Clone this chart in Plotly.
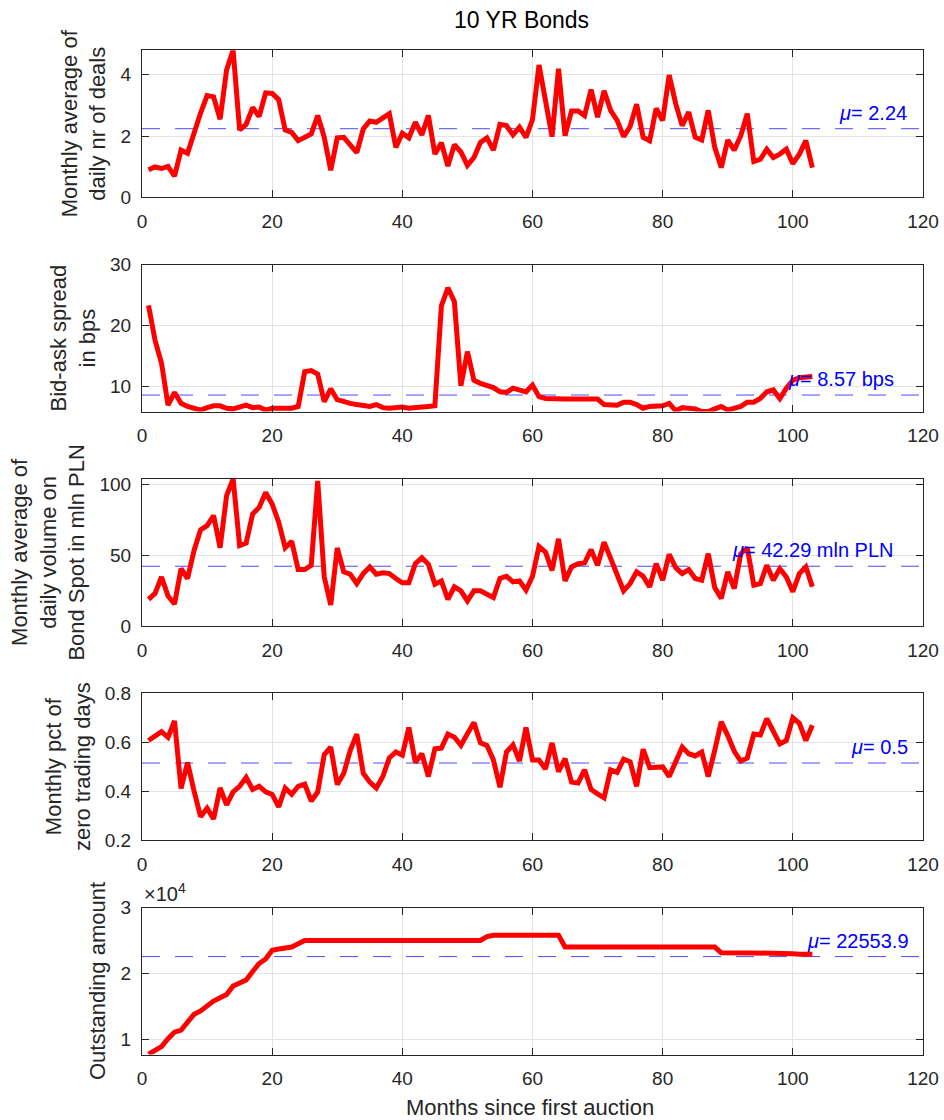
import plotly.graph_objects as go

# ---- data: monthly statistics for the 10-year bond, months since first auction ----
months = list(range(1, 104))

avg_deals = [0.90, 0.99, 0.94, 1.01, 0.69, 1.54, 1.44, 2.12, 2.75, 3.32,
             3.28, 2.55, 4.16, 4.80, 2.20, 2.38, 2.93, 2.64, 3.41, 3.39,
             3.19, 2.20, 2.12, 1.85, 1.96, 2.07, 2.67, 1.96, 0.88, 1.94,
             1.96, 1.68, 1.46, 2.23, 2.49, 2.45, 2.60, 2.73, 1.63, 2.09,
             1.94, 2.45, 2.04, 2.67, 1.41, 1.78, 1.02, 1.72, 1.48, 1.04,
             1.30, 1.79, 1.94, 1.54, 2.38, 2.34, 2.04, 2.29, 1.96, 2.54,
             4.32, 3.22, 1.98, 4.20, 2.01, 2.82, 2.82, 2.67, 3.52, 2.62,
             3.48, 2.84, 2.51, 1.98, 2.31, 3.04, 1.96, 1.85, 2.90, 2.51,
             3.99, 3.06, 2.34, 2.78, 1.96, 1.87, 2.84, 1.63, 0.97, 1.87,
             1.54, 2.01, 2.73, 1.17, 1.24, 1.57, 1.30, 1.41, 1.57, 1.10,
             1.41, 1.85, 0.97]

bid_ask_bps = [23.3, 17.6, 13.8, 6.9, 9.0, 7.2, 6.7, 6.3, 6.1, 6.5,
               6.8, 6.8, 6.4, 6.3, 6.7, 6.9, 6.5, 6.6, 6.1, 6.4,
               6.4, 6.4, 6.4, 6.7, 12.4, 12.6, 12.0, 7.5, 9.6, 7.8,
               7.4, 7.2, 7.0, 6.8, 6.7, 7.0, 6.5, 6.4, 6.5, 6.6,
               6.4, 6.4, 6.6, 6.7, 6.8, 23.2, 26.2, 23.9, 10.1, 15.7,
               11.0, 10.5, 10.2, 9.8, 9.1, 9.0, 9.7, 9.5, 9.1, 10.2,
               8.3, 8.0, 7.9, 8.0, 7.9, 7.9, 7.9, 8.1, 8.0, 7.9,
               7.0, 6.9, 6.9, 7.4, 7.4, 7.0, 6.4, 6.7, 6.7, 6.8,
               7.2, 6.0, 6.5, 6.3, 6.3, 5.85, 5.85, 6.3, 6.7, 6.1,
               6.3, 6.7, 7.4, 7.4, 8.0, 9.1, 9.4, 8.0, 9.7, 11.0,
               11.4, 11.6, 11.6]

volume_mln_pln = [18.8, 23.0, 34.7, 21.1, 15.5, 40.6, 33.6, 53.5, 68.1, 71.1,
                  78.2, 55.4, 92.3, 104.2, 57.0, 58.7, 79.3, 84.0, 94.6, 86.4,
                  73.5, 55.4, 59.9, 39.9, 39.9, 43.0, 102.8, 34.7, 14.8, 55.2,
                  38.3, 36.6, 30.0, 37.1, 41.8, 36.6, 37.6, 37.1, 33.6, 30.5,
                  30.5, 44.1, 48.4, 43.7, 29.6, 31.9, 18.8, 27.7, 24.9, 17.8,
                  24.9, 24.9, 22.5, 20.2, 33.6, 35.2, 31.2, 31.9, 25.4, 35.2,
                  56.3, 52.3, 39.4, 61.7, 31.9, 41.8, 44.1, 44.6, 54.0, 43.0,
                  59.4, 48.4, 36.6, 24.9, 30.0, 38.3, 35.2, 27.7, 44.1, 32.4,
                  50.7, 41.3, 37.1, 39.9, 33.6, 32.4, 51.2, 27.2, 19.5, 38.3,
                  26.5, 51.2, 55.4, 28.9, 30.0, 43.0, 32.4, 40.6, 34.7, 24.2,
                  37.1, 41.8, 27.7]

zero_trading_pct = [0.607, 0.624, 0.643, 0.620, 0.687, 0.411, 0.517, 0.400, 0.296, 0.331,
                    0.287, 0.413, 0.344, 0.397, 0.420, 0.456, 0.407, 0.420, 0.397, 0.387,
                    0.336, 0.413, 0.387, 0.420, 0.429, 0.360, 0.397, 0.549, 0.580, 0.427,
                    0.473, 0.567, 0.633, 0.473, 0.437, 0.413, 0.460, 0.536, 0.560, 0.547,
                    0.660, 0.517, 0.553, 0.460, 0.573, 0.576, 0.633, 0.620, 0.587, 0.635,
                    0.680, 0.597, 0.587, 0.527, 0.416, 0.560, 0.589, 0.523, 0.660, 0.527,
                    0.527, 0.491, 0.597, 0.480, 0.533, 0.437, 0.433, 0.487, 0.407, 0.389,
                    0.373, 0.487, 0.477, 0.531, 0.520, 0.420, 0.571, 0.496, 0.496, 0.499,
                    0.460, 0.523, 0.580, 0.553, 0.544, 0.560, 0.460, 0.567, 0.683, 0.627,
                    0.563, 0.523, 0.536, 0.633, 0.629, 0.696, 0.647, 0.593, 0.607, 0.700,
                    0.677, 0.607, 0.669]

outstanding = ([7750, 8400, 8900, 10100, 11100, 11400, 12700, 13800, 14300, 15100,
                15800, 16300, 16800, 18100, 18600, 19000, 20300, 21500, 22200, 23500,
                23700, 23800, 24000, 24500]
               + [25000] * 28 + [25600] + [25800] * 11 + [24000] * 24
               + [23150] + [23100] * 7 + [23000] * 4 + [22900] * 3)

# sample means shown as dashed reference lines
mean_levels = [2.24, 8.57, 42.29, 0.515, 22553.9]
mean_decimals = [2, 2, 2, 1, 1]
mean_units = ["", " bps", " mln PLN", "", ""]

y_titles = ["Monthly average of<br>daily nr of deals",
            "Bid-ask spread<br>in bps",
            "Monthly average of<br>daily volume on<br>Bond Spot in mln PLN",
            "Monthly pct of<br>zero trading days",
            "Outstanding amount"]

x_ticks = [0, 20, 40, 60, 80, 100, 120]

series = [avg_deals, bid_ask_bps, volume_mln_pln, zero_trading_pct, outstanding]

# ---- layout geometry (pixels) ----
W, H = 944, 1120
PLOT_L, PLOT_R = 142, 923
TOP0, STEP, PH = 50.3, 214.3, 147.0

y_ranges = [[0, 4.8], [5.85, 30], [0, 104.2], [0.2, 0.8], [7700, 30000]]
y_tickvals = [[0, 2, 4], [10, 20, 30], [0, 50, 100], [0.2, 0.4, 0.6, 0.8],
              [10000, 20000, 30000]]
y_ticktext = [["0", "2", "4"], ["10", "20", "30"], ["0", "50", "100"],
              ["0.2", "0.4", "0.6", "0.8"], ["1", "2", "3"]]
label_x = [106.8, 99.0, 90.4, 108.6, 101.8]

FONT = "Liberation Sans, Arial, Helvetica, sans-serif"
AX_COLOR = "#262626"
GRID = "#e3e3e3"

fig = go.Figure()
layout = dict(
    width=W, height=H,
    margin=dict(l=0, r=0, t=0, b=0),
    paper_bgcolor="white", plot_bgcolor="white",
    showlegend=False,
    font=dict(family=FONT, size=19, color=AX_COLOR),
)

annotations = []
for i, ys in enumerate(series):
    k = i + 1
    xa = "x" if k == 1 else f"x{k}"
    ya = "y" if k == 1 else f"y{k}"
    top = TOP0 + STEP * i
    bot = top + PH
    dom_y = [1 - bot / H, 1 - top / H]

    # mean reference line
    fig.add_trace(go.Scatter(
        x=[x_ticks[0], x_ticks[-1]], y=[mean_levels[i]] * 2,
        mode="lines", xaxis=xa, yaxis=ya,
        line=dict(color="rgba(30,30,255,0.8)", width=1, dash="18px,15px"),
        hoverinfo="skip"))
    # monthly series
    fig.add_trace(go.Scatter(
        x=months, y=ys, mode="lines", xaxis=xa, yaxis=ya,
        line=dict(color="#ff0000", width=5), hoverinfo="skip"))

    common = dict(
        showline=True, linecolor=AX_COLOR, linewidth=1, mirror="ticks",
        ticks="inside", ticklen=7, tickwidth=1, tickcolor=AX_COLOR,
        showgrid=True, gridcolor=GRID, gridwidth=1, zeroline=False,
        tickfont=dict(family=FONT, size=19, color=AX_COLOR),
        automargin=False,
    )
    layout["xaxis" if k == 1 else f"xaxis{k}"] = dict(
        common, domain=[PLOT_L / W, PLOT_R / W], range=[0, 120],
        tickvals=x_ticks, anchor=ya, ticklabelstandoff=7)
    layout["yaxis" if k == 1 else f"yaxis{k}"] = dict(
        common, domain=dom_y, range=y_ranges[i], anchor=xa,
        tickvals=y_tickvals[i], ticktext=y_ticktext[i],
        ticklabelstandoff=6,
        title=dict(text=y_titles[i], standoff=8,
                   font=dict(family=FONT, size=22, color=AX_COLOR)))

    val = f"{mean_levels[i]:.{mean_decimals[i]}f}"
    annotations.append(dict(
        x=label_x[i], y=mean_levels[i], xref=xa, yref=ya,
        text=f"<i>\u03bc</i>= {val}{mean_units[i]}",
        showarrow=False, xanchor="left", yanchor="middle", yshift=16,
        font=dict(family=FONT, size=20, color="#0000ff")))

# exponent marker for the outstanding amount axis
top5 = TOP0 + STEP * 4
annotations.append(dict(
    x=PLOT_L / W, y=1 - top5 / H, xref="paper", yref="paper",
    text="\u00d710<sup>4</sup>", showarrow=False, xanchor="left", yanchor="bottom",
    yshift=1, font=dict(family=FONT, size=20, color=AX_COLOR)))

# figure title and shared x-axis label
annotations.append(dict(
    x=521 / W, y=1 - 20 / H, xref="paper", yref="paper", text="10 YR Bonds",
    showarrow=False, xanchor="center", yanchor="middle",
    font=dict(family=FONT, size=23, color="#000000")))
annotations.append(dict(
    x=530 / W, y=1 - 1107 / H, xref="paper", yref="paper",
    text="Months since first auction",
    showarrow=False, xanchor="center", yanchor="middle",
    font=dict(family=FONT, size=22, color=AX_COLOR)))

layout["annotations"] = annotations
fig.update_layout(**layout)
fig.write_html("out.html")
